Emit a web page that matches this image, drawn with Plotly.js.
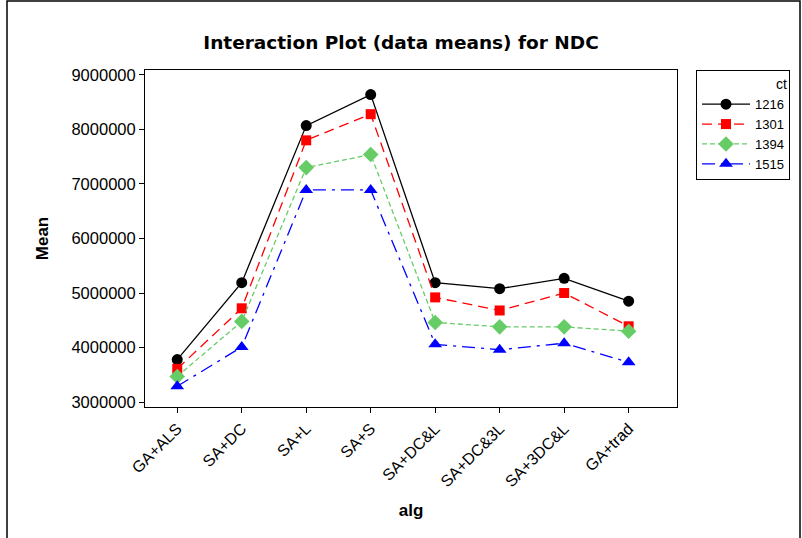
<!DOCTYPE html>
<html>
<head>
<meta charset="utf-8">
<script src="https://cdn.plot.ly/plotly-3.0.1.min.js"></script>
<style>html,body{margin:0;padding:0;background:#fff;}#chart{width:802px;height:538px;}</style>
</head>
<body>
<div id="chart"></div>
<script>
const categories = ["GA+ALS","SA+DC","SA+L","SA+S","SA+DC&L","SA+DC&3L","SA+3DC&L","GA+trad"];
const seriesNames = ["1216","1301","1394","1515"];
const ct1216 = [3780000,5190000,8070000,8640000,5190000,5080000,5270000,4850000];
const ct1301 = [3610000,4720000,7800000,8280000,4920000,4680000,5000000,4390000];
const ct1394 = [3470000,4480000,7300000,7540000,4460000,4380000,4380000,4300000];
const ct1515 = [3290000,4010000,6890000,6890000,4060000,3960000,4080000,3730000];
const yTicks = [3000000,4000000,5000000,6000000,7000000,8000000,9000000];

const styles = [
  {color:"#000000", dash:"solid", symbol:"circle", size:11},
  {color:"#FF0000", dash:"10px,6px", symbol:"square", size:10},
  {color:"#66CC66", dash:"5px,3px", symbol:"diamond", size:12},
  {color:"#0000FF", dash:"13px,6px,3px,6px", symbol:"triangle-up", size:12}
];
const values = [ct1216, ct1301, ct1394, ct1515];
const xIdx = categories.map((_, i) => i);

const traces = values.map((v, i) => ({
  x: xIdx, y: v, name: seriesNames[i], type: "scatter", mode: "lines+markers",
  line: {color: styles[i].color, dash: styles[i].dash, width: 1.3},
  marker: {color: styles[i].color, symbol: styles[i].symbol, size: styles[i].size}
}));

const L = 145, R = 677, T = 70, B = 407, W = 802, H = 538;
const px = p => (p - L) / (R - L);
const py = p => (B - p) / (B - T);

const layout = {
  width: W, height: H,
  margin: {l: L, r: W - R, t: T, b: H - B, pad: 0},
  paper_bgcolor: "#fff", plot_bgcolor: "#fff",
  font: {family: "Liberation Sans, Arial, sans-serif", color: "#000"},
  title: {text: "<b>Interaction Plot (data means) for NDC</b>", x: 0.5, xanchor: "center", y: 1 - 43/H, yanchor: "middle",
          font: {size: 18.5, family: "DejaVu Sans, Verdana, sans-serif", color: "#000"}},
  xaxis: {
    range: [-0.5, 7.75], tickmode: "array", tickvals: xIdx, ticktext: categories,
    tickangle: -45, ticks: "outside", ticklen: 5, tickcolor: "#000",
    showline: true, linecolor: "#000", linewidth: 1, mirror: true, showgrid: false, zeroline: false,
    tickfont: {size: 16, color: "#000"},
    title: {text: "<b>alg</b>", font: {size: 17, color: "#000"}, standoff: 14}
  },
  yaxis: {
    range: [2910000, 9090000], tickmode: "array", tickvals: yTicks, ticktext: yTicks.map(String),
    ticks: "outside", ticklen: 5, tickcolor: "#000",
    showline: true, linecolor: "#000", linewidth: 1, mirror: true, showgrid: false, zeroline: false,
    tickfont: {size: 16.5, color: "#000"},
    title: {text: "<b>Mean</b>", font: {size: 17, color: "#000"}, standoff: 18}
  },
  showlegend: true,
  legend: {
    x: px(696), xanchor: "left", y: 1, yanchor: "top",
    bordercolor: "#000", borderwidth: 1, bgcolor: "#fff",
    font: {size: 13, color: "#000"},
    title: {text: "ct", side: "top right", font: {size: 14, color: "#000"}},
    tracegroupgap: 0, itemwidth: 48
  },
  shapes: [
    {type: "rect", xref: "paper", yref: "paper", x0: px(7), x1: px(800), y0: py(545), y1: py(1),
     line: {color: "#000", width: 1.5}, fillcolor: "rgba(0,0,0,0)", layer: "below"}
  ]
};

Plotly.newPlot("chart", traces, layout, {displayModeBar: false, staticPlot: true});
</script>
</body>
</html>
